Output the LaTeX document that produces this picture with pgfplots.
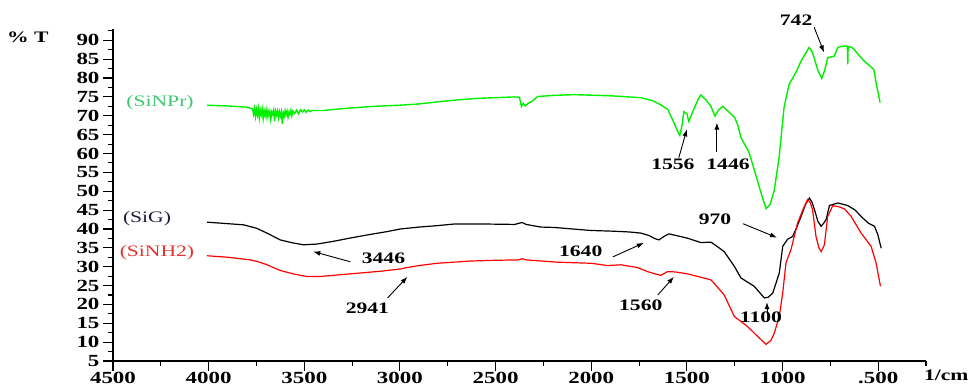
\documentclass[border=0pt]{standalone}
\usepackage{fontspec}
\setmainfont{Liberation Serif}[FakeStretch=1.35]
\usepackage{pgfplots}
\pgfplotsset{compat=1.18}
\usetikzlibrary{arrows.meta}
\definecolor{lgreen}{RGB}{0,240,0}
\definecolor{labgreen}{RGB}{60,200,110}
\definecolor{labnavy}{RGB}{30,30,60}
\definecolor{labred}{RGB}{230,50,50}
\begin{document}
\begin{tikzpicture}
\path[use as bounding box] (-113pt,-26pt) rectangle (855pt,361pt);
\begin{axis}[
  scale only axis, width=813pt, height=332pt,
  xmin=250, xmax=4500, x dir=reverse, ymin=5, ymax=93,
  axis lines*=left,
  axis line style={line width=1.3pt, -},
  xtick={500,1000,1500,2000,2500,3000,3500,4000,4500},
  xticklabels={.500,1000,1500,2000,2500,3000,3500,4000,4500},
  minor xtick={250,750,1250,1750,2250,2750,3250,3750,4250},
  ytick={5,10,...,90},
  minor ytick={7.5,12.5,...,92.5},
  tick align=outside, major tick length=10pt, minor tick length=5pt,
  tick style={black, line width=1.1pt},
  ticklabel style={font=\bfseries\fontsize{17}{19}\selectfont},
  xticklabel style={inner sep=0pt, yshift=-1pt},
  /pgf/number format/assume math mode=true,
  clip=false,
]
% SiNPr (green)
\addplot[lgreen, line width=1.4pt] coordinates {
(4008,72.8)(3900,72.6)(3800,72.3)(3770,71.8)
(3765,70.4)(3760,71.9)(3755,69.8)(3750,71.7)(3745,70.2)(3740,71.9)(3735,69.4)(3730,71.5)(3725,70.3)(3720,71.8)(3715,69.2)(3710,71.3)(3705,70.0)(3700,71.6)(3695,69.6)(3690,71.4)(3685,70.1)(3680,71.2)(3675,69.0)(3670,71.0)(3665,70.4)(3660,71.5)(3655,68.6)(3650,71.2)(3645,70.2)(3640,71.3)(3635,69.5)(3630,71.1)(3625,69.9)(3620,71.0)(3615,67.9)(3610,70.8)(3605,69.9)(3600,71.4)(3595,70.3)(3590,71.3)(3585,69.6)(3580,71.0)(3575,70.4)(3570,71.5)(3565,70.0)(3560,71.3)(3550,70.6)(3540,71.5)(3530,70.5)(3520,71.6)(3510,71.0)(3500,71.6)(3490,70.9)(3480,71.5)(3470,71.1)(3460,71.4)
(3400,71.4)(3300,71.9)(3139,72.5)(3000,72.8)(2908,73.1)(2800,73.7)(2700,74.2)(2600,74.6)(2500,74.8)(2400,75.0)(2375,74.9)(2365,72.5)(2355,73.3)(2345,72.6)(2330,73.3)(2310,73.8)(2280,75.1)(2200,75.4)(2090,75.6)(1900,75.3)(1741,74.8)(1680,74.0)(1640,73.0)(1600,71.7)(1568,68.2)(1545,65.5)(1537,64.8)(1525,67.5)(1516,71.1)(1500,70.5)(1490,68.5)(1470,71.0)(1440,74.5)(1427,75.5)(1400,74.2)(1374,72.5)(1353,69.9)(1335,71.5)(1313,72.5)(1280,71.0)(1250,69.5)(1235,67.7)(1217,64.2)(1175,60.3)(1130,52.6)(1100,47.5)(1086,45.4)(1065,46.5)(1044,50.0)(1018,58.9)(992,72.2)(966,78.3)(930,81.5)(903,84.5)(880,86.5)(861,88.1)(845,87.0)(835,85.4)(815,82.0)(795,79.9)(780,82.0)(764,85.4)(730,85.8)(711,88.1)(690,88.4)(670,88.5)(661,88.4)(659,83.6)(657,88.3)(640,88.2)(626,87.6)(600,86.0)(573,84.5)(523,82.3)(511,78.8)(490,73.5)
};
% SiG (black)
\addplot[black, line width=1.2pt] coordinates {
(4008,41.8)(3900,41.4)(3818,41.1)(3750,40.2)(3695,38.9)(3626,37.1)(3560,36.3)(3504,35.8)(3434,36.0)(3350,36.7)(3259,37.6)(3150,38.6)(3067,39.3)(2997,40.0)(2900,40.5)(2800,40.9)(2718,41.3)(2544,41.3)(2400,41.2)(2370,41.6)(2361,41.7)(2340,41.2)(2264,40.5)(2195,40.4)(2003,39.6)(1881,39.4)(1800,39.2)(1741,38.9)(1700,38.3)(1665,37.4)(1646,37.1)(1620,38.0)(1594,38.7)(1500,37.6)(1427,36.4)(1374,36.5)(1340,35.3)(1305,34.0)(1252,30.1)(1217,27.0)(1148,24.8)(1095,21.7)(1075,21.9)(1051,23.0)(1017,28.3)(999,35.4)(973,37.3)(947,38.0)(925,40.5)(903,43.3)(880,46.5)(859,48.2)(845,47.0)(833,45.1)(815,42.0)(798,40.7)(785,41.5)(772,42.5)(755,46.2)(711,46.9)(659,46.2)(620,45.0)(589,43.3)(550,41.5)(519,40.7)(502,38.5)(484,34.9)
};
% SiNH2 (red)
\addplot[red, line width=1.2pt] coordinates {
(4009,32.9)(3900,32.5)(3783,31.8)(3740,31.3)(3695,30.5)(3626,29.0)(3550,28.0)(3486,27.4)(3416,27.4)(3350,27.7)(3259,28.1)(3100,28.8)(2997,29.4)(2980,29.6)(2900,30.3)(2806,30.9)(2631,31.5)(2500,31.7)(2380,31.8)(2361,32.1)(2340,31.8)(2178,31.2)(2000,30.9)(1916,30.3)(1846,30.5)(1760,29.8)(1706,28.7)(1660,28.0)(1636,27.7)(1601,28.7)(1560,28.6)(1497,28.1)(1427,27.2)(1374,26.5)(1340,24.6)(1305,22.5)(1252,16.8)(1182,14.1)(1130,11.5)(1086,9.4)(1060,10.5)(1043,12.4)(1017,16.8)(999,23.0)(982,31.0)(956,34.5)(921,41.6)(890,45.5)(869,47.8)(855,47.0)(843,45.1)(825,38.0)(810,35.0)(798,34.0)(781,35.8)(764,43.3)(737,46.2)(700,45.8)(676,45.3)(641,43.3)(589,38.9)(537,35.4)(511,31.0)(488,24.8)
};
% labels
\node[font=\bfseries\fontsize{16}{18}\selectfont] at (axis cs:4945,90.8) {\% T};
\node[font=\bfseries\fontsize{16}{18}\selectfont] at (axis cs:144,1.3) {1/cm};
\node[font=\fontsize{16}{18}\selectfont, text=labgreen] at (axis cs:4254,73.5) {(SiNPr)};
\node[font=\fontsize{16}{18}\selectfont, text=labnavy] at (axis cs:4322,42.7) {(SiG)};
\node[font=\fontsize{16}{18}\selectfont, text=labred] at (axis cs:4270,33.7) {(SiNH2)};
% annotations
\begin{scope}[every node/.style={font=\bfseries\fontsize{16}{18}\selectfont}]
\node at (axis cs:929,95.3) {742};
\node at (axis cs:1573,57.1) {1556};
\node at (axis cs:1285,57.1) {1446};
\node at (axis cs:1353,42.5) {970};
\node at (axis cs:1113,16.7) {1100};
\node at (axis cs:1741,19.9) {1560};
\node at (axis cs:2055,34.0) {1640};
\node at (axis cs:3086,32.1) {3446};
\node at (axis cs:3170,19.1) {2941};
\end{scope}
\begin{scope}[line width=0.9pt, -{Latex[length=7pt,width=5pt]}]
\draw (axis cs:835,93.5) -- (axis cs:783,86.8);
\draw (axis cs:1542,58.9) -- (axis cs:1500,66.4);
\draw (axis cs:1343,60.5) -- (axis cs:1343,68.2);
\draw (axis cs:1207,41.4) -- (axis cs:1029,37.7);
\draw (axis cs:1081,17.6) -- (axis cs:1081,20.6);
\draw (axis cs:1652,22.5) -- (axis cs:1568,27.3);
\draw (axis cs:1887,32.6) -- (axis cs:1725,36.3);
\draw (axis cs:3259,31.3) -- (axis cs:3453,34.0);
\draw (axis cs:3065,21.7) -- (axis cs:2961,27.3);
\end{scope}
\end{axis}
\end{tikzpicture}
\end{document}
